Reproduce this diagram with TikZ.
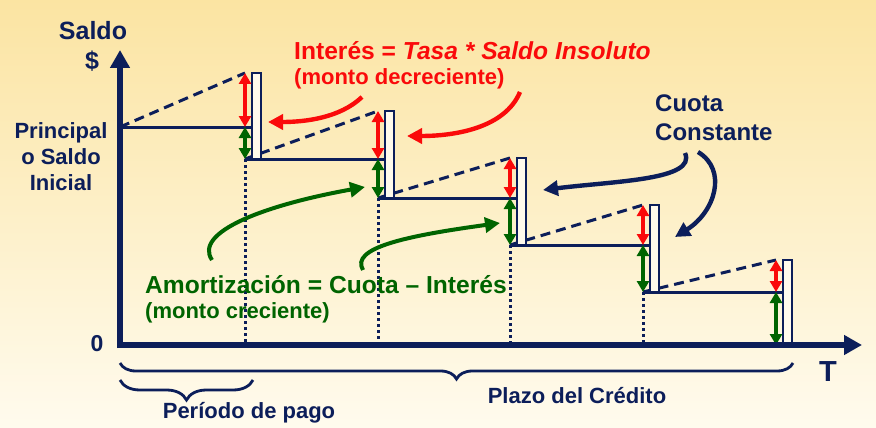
\documentclass[tikz,border=0pt]{standalone}
\usepackage{fontspec}
\setmainfont{Liberation Sans}
\usetikzlibrary{arrows.meta,decorations.pathreplacing,calc}
\definecolor{navy}{RGB}{12,30,90}
\definecolor{dgreen}{RGB}{0,100,0}
\definecolor{bred}{RGB}{250,10,10}
\definecolor{bgtop}{RGB}{251,228,162}
\definecolor{bgbot}{RGB}{255,251,238}
\definecolor{barfill}{RGB}{255,250,236}
\tikzset{
  axisline/.style={navy,line width=6pt,-{Triangle[length=18pt,width=19pt]}},
  levelline/.style={navy,line width=3pt},
  dashline/.style={navy,line width=3pt,dash pattern=on 10pt off 6pt},
  dotline/.style={navy,line width=3pt,dash pattern=on 3pt off 3pt},
  barbox/.style={navy,line width=2.8pt,fill=barfill},
  intarrow/.style={bred,line width=3.4pt,{Triangle[length=11pt,width=12pt]}-{Triangle[length=11pt,width=12pt]}},
  amoarrow/.style={dgreen,line width=3.4pt,{Triangle[length=11pt,width=12pt]}-{Triangle[length=11pt,width=12pt]}},
  curvearrow/.style={line width=4.4pt,-{Triangle[length=15pt,width=15pt]}},
  lbl/.style={font=\bfseries\fontsize{22}{26}\selectfont,inner sep=0pt},
  bigbrace/.style={navy,line width=2.8pt,decorate,decoration={brace,amplitude=#1}}
}
\begin{document}
\begin{tikzpicture}[x=1pt,y=-1pt]
\useasboundingbox (0,0) rectangle (876,428);
\shade[top color=bgtop,bottom color=bgbot] (0,0) rectangle (876,428);

% coordinates of the staircase
\coordinate (L0) at (120,127);
\foreach \i/\a/\t/\p/\n in {1/245/73/127/159, 2/378/111/159/198, 3/510/158/198/245, 4/643/205/245/292, 5/776/260/292/345}{
  \coordinate (T\i) at (\a,\t);
  \coordinate (P\i) at (\a,\p);
  \coordinate (N\i) at (\a,\n);
  \coordinate (BL\i) at (\a+7,\n);
  \coordinate (BR\i) at (\a+16,\t);
  \coordinate (X\i) at (\a,345);
}

% dotted verticals
\foreach \i in {1,2,3,4}{ \draw[dotline] (N\i) -- (X\i); }

% level lines
\draw[levelline] (L0) -- (BL1 |- L0);
\draw[levelline] (N1) -- (BL2 |- N1);
\draw[levelline] (N2) -- (BL3 |- N2);
\draw[levelline] (N3) -- (BL4 |- N3);
\draw[levelline] (N4) -- (BL5 |- N4);

% dashed lines
\draw[dashline] (L0) -- (T1);
\draw[dashline] (N1) -- (T2);
\draw[dashline] (N2) -- (T3);
\draw[dashline] (N3) -- (T4);
\draw[dashline] (N4) -- (T5);

% bars
\foreach \i in {1,...,5}{ \draw[barbox] (BL\i) rectangle (BR\i); }

% interest and amortization arrows
\foreach \i in {1,...,5}{
  \draw[intarrow] (T\i) -- (P\i);
  \draw[amoarrow] (P\i) -- (N\i);
}

% axes
\coordinate (O) at (120,345);
\coordinate (Ytip) at (120,50);
\coordinate (Xtip) at (862,345);
\draw[axisline] ($(O)+(0,3)$) -- (Ytip);
\draw[axisline] ($(O)+(-3,0)$) -- (Xtip);

% axis labels
\node[lbl,font=\bfseries\fontsize{25}{28}\selectfont,text=navy] (saldo) at (93,31) {Saldo};
\node[lbl,font=\bfseries\fontsize{25}{28}\selectfont,text=navy] (dollar) at (92,61) {\$};
\node[lbl,font=\bfseries\fontsize{23}{26}\selectfont,text=navy] (zero) at (97,344) {0};
\node[lbl,font=\bfseries\fontsize{29}{30}\selectfont,text=navy] (tee) at (828,372) {T};
\node[lbl,text=navy,align=center] (prin) at (61,157) {Principal\\o Saldo\\Inicial};

% interest text
\node[lbl,font=\bfseries\fontsize{24.6}{28}\selectfont,text=bred,anchor=west] (inttitle) at (294,51) {Interés = \textit{Tasa * Saldo Insoluto}};
\node[lbl,text=bred,anchor=west] (intsub) at (294,79) {(monto decreciente)};

% cuota text
\node[lbl,font=\bfseries\fontsize{24}{29}\selectfont,text=navy,align=left,anchor=north west] (cuota) at (655,95) {Cuota\\Constante};

% amortization text
\node[lbl,font=\bfseries\fontsize{24.6}{28}\selectfont,text=dgreen,anchor=west] (amotitle) at (145,285) {Amortización = Cuota – Interés};
\node[lbl,text=dgreen,anchor=west] (amosub) at (145,313) {(monto creciente)};

% curved arrows
\coordinate (r1s) at (362,97);  \coordinate (r1e) at (268,122);
\coordinate (r2s) at (520,92);  \coordinate (r2e) at (407,136);
\coordinate (c1s) at (685,153); \coordinate (c1e) at (543,190);
\coordinate (c2s) at (698,152); \coordinate (c2e) at (675,237);
\coordinate (g1s) at (212,260); \coordinate (g1e) at (365,187);
\coordinate (g2s) at (363,270); \coordinate (g2e) at (500,223);
\draw[curvearrow,bred] (r1s) .. controls (340,118) and (305,122) .. (r1e);
\draw[curvearrow,bred] (r2s) .. controls (505,128) and (455,136) .. (r2e);
\draw[curvearrow,navy] (c1s) .. controls (697,180) and (615,181) .. (c1e);
\draw[curvearrow,navy] (c2s) .. controls (728,170) and (715,212) .. (c2e);
\draw[curvearrow,dgreen,line width=4pt] (g1s) .. controls (193,232) and (265,205) .. (g1e);
\draw[curvearrow,dgreen,line width=4pt] (g2s) .. controls (350,248) and (405,236) .. (g2e);

% braces
\coordinate (bA) at (120,363); \coordinate (bB) at (793,363);
\coordinate (sA) at (120,380); \coordinate (sB) at (253,380);
\draw[bigbrace=16pt] (bB) -- (bA);
\draw[bigbrace=20pt] (sB) -- (sA);
\node[lbl,text=navy] (plazo) at (577,396) {Plazo del Crédito};
\node[lbl,text=navy] (periodo) at (249,413) {Período de pago};
\end{tikzpicture}
\end{document}
